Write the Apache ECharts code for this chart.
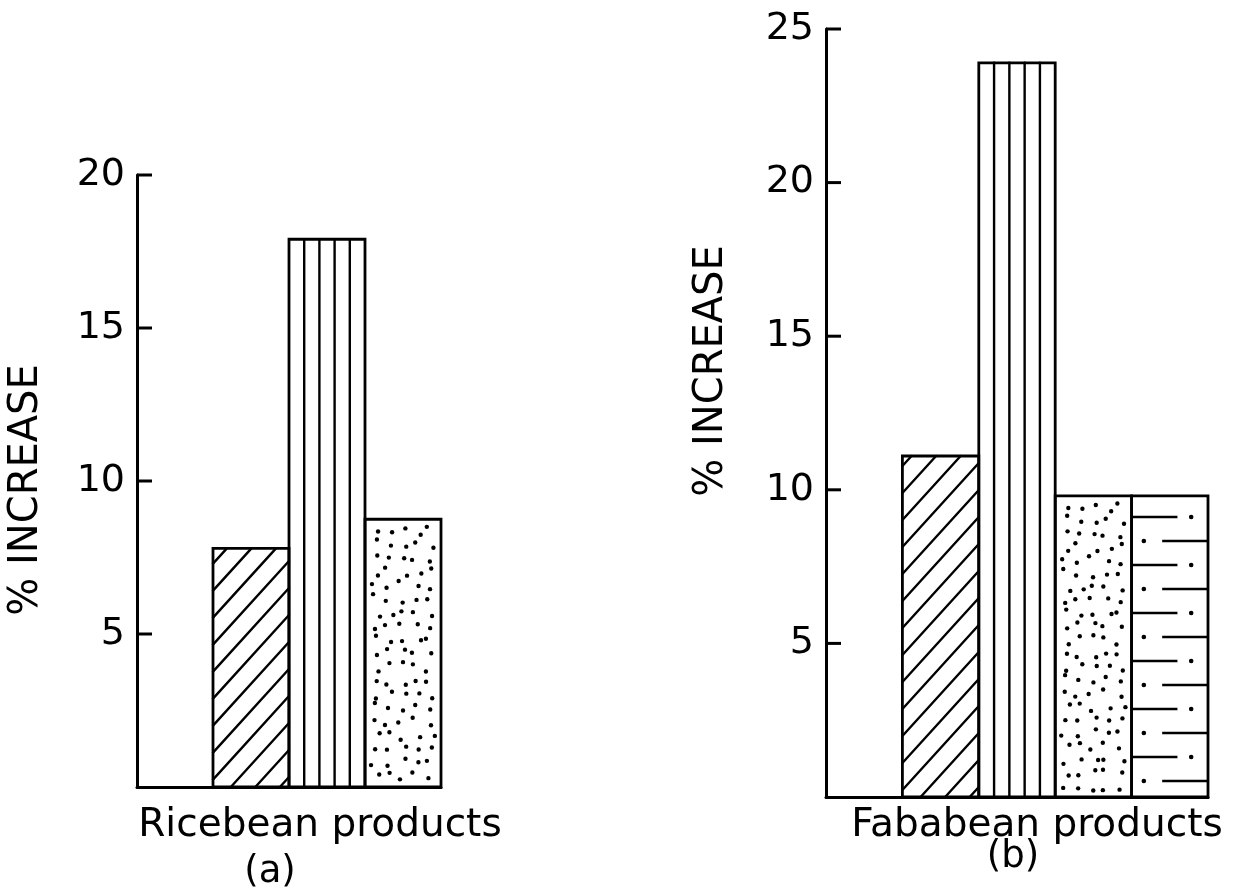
<!DOCTYPE html>
<html>
<head>
<meta charset="utf-8">
<script src="https://cdn.jsdelivr.net/npm/echarts/dist/echarts.min.js"></script>
<style>
html,body{margin:0;padding:0;background:#fff;}
#chart{width:1239px;height:895px;}
</style>
</head>
<body>
<div id="chart"></div>
<script>
// ---------- data ----------
const riceCategories = ['P0', 'P1', 'P2', 'P3'];
const riceValues = [0, 7.8, 17.9, 8.75];
const riceTicks = [0, 5, 10, 15, 20];

const fabaCategories = ['P0', 'P1', 'P2', 'P3', 'P4'];
const fabaValues = [0, 11.1, 23.9, 9.8, 9.8];
const fabaTicks = [0, 5, 10, 15, 20, 25];

const ricePatterns = [null, 'diag', 'vert', 'dots'];
const fabaPatterns = [null, 'diag', 'vert', 'dots', 'hline'];

const yAxisTitle = '% INCREASE';
const riceCaption = 'Ricebean products';
const riceTag = '(a)';
const fabaCaption = 'Fababean products';
const fabaTag = '(b)';

// ---------- helpers ----------
const FONT = 'DejaVu Sans';
function hash(i, j) {
  const s = Math.sin(i * 12.9898 + j * 78.233) * 43758.5453;
  return s - Math.floor(s);
}

function makeRender(patterns) {
  return function (params, api) {
    const idx = api.value(0);
    const val = api.value(1);
    if (!val) return { type: 'group', children: [] };
    const top = api.coord([idx, val]);
    const base = api.coord([idx, 0]);
    const w = api.size([1, 0])[0];
    const x0 = top[0] - w / 2, x1 = top[0] + w / 2;
    const y0 = top[1], y1 = base[1];
    const h = y1 - y0;
    const pat = patterns[idx];
    const kids = [];
    const ls = { stroke: '#000', lineWidth: 2.4, lineCap: 'round' };
    if (pat === 'vert') {
      for (let k = 1; k < 5; k++) {
        const x = x0 + k * w / 5;
        kids.push({ type: 'line', shape: { x1: x, y1: y0, x2: x, y2: y1 }, style: ls });
      }
    } else if (pat === 'diag') {
      const s = 1.1, sp = 27;
      for (let c = y1 + s * w - 10; c > y0; c -= sp) {
        const xa = Math.max(x0, x0 + (c - y1) / s);
        const xb = Math.min(x1, x0 + (c - y0) / s);
        if (xb - xa > 1) {
          kids.push({ type: 'line', shape: { x1: xa, y1: c - s * (xa - x0), x2: xb, y2: c - s * (xb - x0) }, style: ls });
        }
      }
    } else if (pat === 'dots') {
      const g = 13;
      const nx = Math.floor((w - 8) / g), ny = Math.floor((h - 8) / g);
      const gx = (w - 8) / nx, gy = (h - 8) / ny;
      for (let i = 0; i < nx; i++) {
        for (let j = 0; j < ny; j++) {
          const cx = x0 + 4 + (i + 0.15 + 0.7 * hash(i + idx * 31, j)) * gx;
          const cy = y0 + 4 + (j + 0.15 + 0.7 * hash(j + 7, i + idx * 13)) * gy;
          kids.push({ type: 'circle', shape: { cx: cx, cy: cy, r: 2.2 }, style: { fill: '#000' } });
        }
      }
    } else if (pat === 'hline') {
      let a = true;
      for (let y = y0 + 21; y < y1 - 4; y += 24) {
        if (a) {
          kids.push({ type: 'line', shape: { x1: x0, y1: y, x2: x0 + 0.6 * w, y2: y }, style: { stroke: '#000', lineWidth: 2.6 } });
          kids.push({ type: 'circle', shape: { cx: x0 + 0.78 * w, cy: y, r: 2.3 }, style: { fill: '#000' } });
        } else {
          kids.push({ type: 'circle', shape: { cx: x0 + 0.16 * w, cy: y, r: 2.3 }, style: { fill: '#000' } });
          kids.push({ type: 'line', shape: { x1: x0 + 0.4 * w, y1: y, x2: x1, y2: y }, style: { stroke: '#000', lineWidth: 2.6 } });
        }
        a = !a;
      }
    }
    kids.push({ type: 'rect', shape: { x: x0, y: y0, width: w, height: h }, style: { fill: 'none', stroke: '#000', lineWidth: 2.8 } });
    return { type: 'group', children: kids };
  };
}

// inward tick marks placed with the axis scale
function renderTick(params, api) {
  const v = api.value(0);
  const p = api.coord([0, v]);
  const xAxisLeft = p[0] - api.size([1, 0])[0] / 2;
  return {
    type: 'line',
    shape: { x1: xAxisLeft, y1: p[1], x2: xAxisLeft + 15, y2: p[1] },
    style: { stroke: '#000', lineWidth: 3 }
  };
}

function yAxisFor(gridIndex, ticks) {
  return {
    type: 'value', gridIndex: gridIndex,
    min: ticks[0], max: ticks[ticks.length - 1], interval: ticks[1] - ticks[0],
    axisLine: { show: true, lineStyle: { color: '#000', width: 3 } },
    axisTick: { show: false },
    splitLine: { show: false },
    axisLabel: { showMinLabel: false, color: '#000', fontFamily: FONT, fontSize: 38, margin: 12 }
  };
}
function xAxisFor(gridIndex, cats) {
  return {
    type: 'category', gridIndex: gridIndex, data: cats,
    axisLine: { show: true, lineStyle: { color: '#000', width: 3 } },
    axisTick: { show: false }, axisLabel: { show: false }, splitLine: { show: false }
  };
}
function textEl(str, x, y, size, rot) {
  return {
    type: 'text', x: x, y: y, rotation: rot || 0,
    style: { text: str, font: size + 'px "' + FONT + '"', fill: '#000', textAlign: 'center', textVerticalAlign: 'middle' }
  };
}

const chart = echarts.init(document.getElementById('chart'), null, { renderer: 'canvas' });
chart.setOption({
  backgroundColor: '#fff',
  animation: false,
  grid: [
    { left: 137, top: 175, width: 304, height: 612 },
    { left: 826, top: 29, width: 382, height: 768 }
  ],
  xAxis: [xAxisFor(0, riceCategories), xAxisFor(1, fabaCategories)],
  yAxis: [yAxisFor(0, riceTicks), yAxisFor(1, fabaTicks)],
  series: [
    {
      type: 'custom', xAxisIndex: 0, yAxisIndex: 0,
      renderItem: makeRender(ricePatterns),
      encode: { x: 0, y: 1 },
      data: riceValues.map((v, i) => [i, v])
    },
    {
      type: 'custom', xAxisIndex: 1, yAxisIndex: 1,
      renderItem: makeRender(fabaPatterns),
      encode: { x: 0, y: 1 },
      data: fabaValues.map((v, i) => [i, v])
    },
    {
      type: 'custom', xAxisIndex: 0, yAxisIndex: 0,
      renderItem: renderTick, encode: { y: 0 },
      data: riceTicks.slice(1).map(t => [t])
    },
    {
      type: 'custom', xAxisIndex: 1, yAxisIndex: 1,
      renderItem: renderTick, encode: { y: 0 },
      data: fabaTicks.slice(1).map(t => [t])
    }
  ],
  graphic: [
    textEl(yAxisTitle, 27, 490, 40, Math.PI / 2),
    textEl(yAxisTitle, 712, 371, 40, Math.PI / 2),
    textEl(riceCaption, 320, 826, 39),
    textEl(riceTag, 270, 872, 37),
    textEl(fabaCaption, 1037, 826, 39),
    textEl(fabaTag, 1013, 857, 37)
  ]
});
</script>
</body>
</html>
